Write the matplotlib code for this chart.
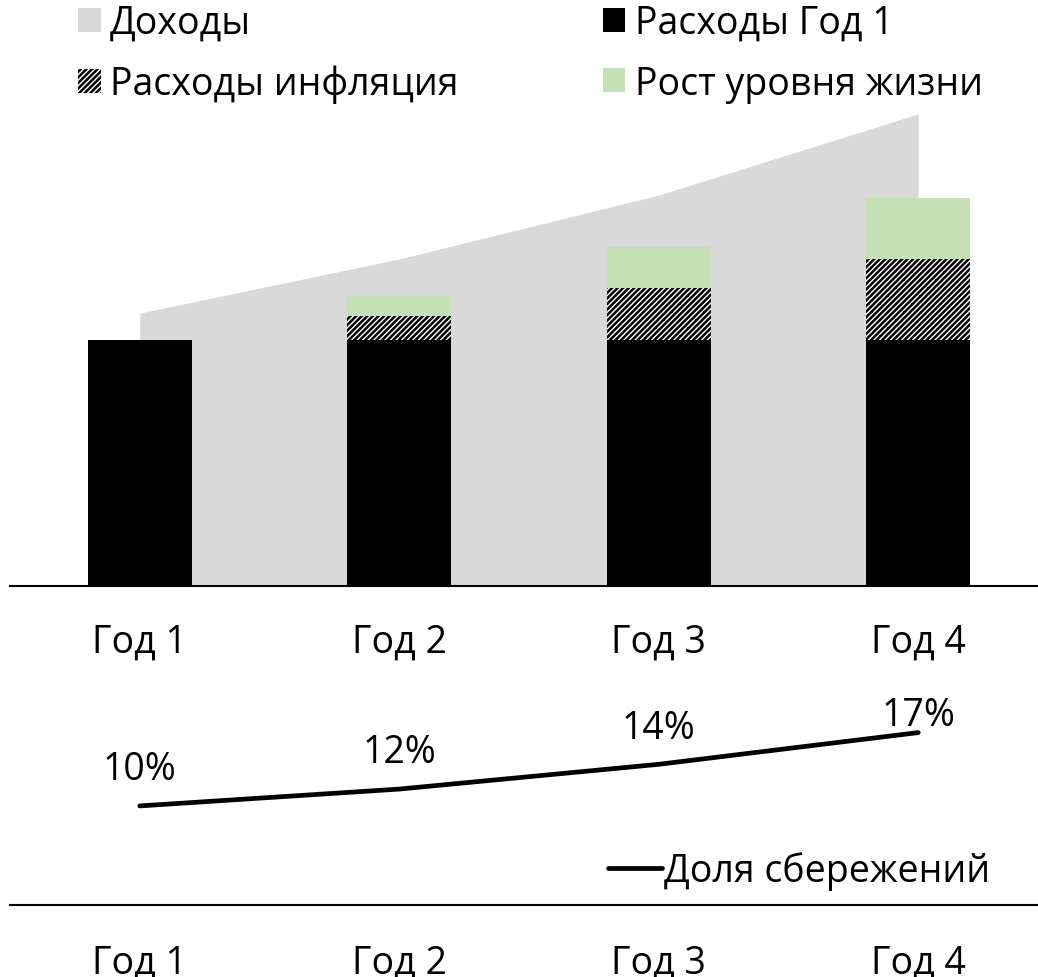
import matplotlib as mpl
mpl.use('Agg')
import matplotlib.pyplot as plt
import numpy as np

# data
years = ['Год 1', 'Год 2', 'Год 3', 'Год 4']
income = [111, 133, 159, 192]
base_spend = [100, 100, 100, 100]
inflation = [0, 10, 21, 33]
growth = [0, 8, 17, 25]
savings = [0.100, 0.117, 0.142, 0.174]
savings_labels = ['10%', '12%', '14%', '17%']

plt.rcParams['font.family'] = ['Open Sans', 'DejaVu Sans']
plt.rcParams['hatch.linewidth'] = 1.8
fs = 27

W, H = 1038, 978
fig = plt.figure(figsize=(W / 100, H / 100), dpi=100)

x = np.arange(len(years))

### top panel ###
ax = fig.add_axes([10 / W, 1 - 587 / H, 1038 / W, 477 / H])
ax.fill_between(x, income, color='#d9d9d9', linewidth=0, label='Доходы')
ax.bar(x, base_spend, width=0.4, color='black', linewidth=0, label='Расходы Год 1')
ax.bar(x, inflation, width=0.4, bottom=base_spend, facecolor='white',
       edgecolor='black', hatch='//////', linewidth=0, label='Расходы инфляция')
bottom2 = np.array(base_spend) + np.array(inflation)
ax.bar(x, growth, width=0.4, bottom=bottom2, color='#c5e0b4', linewidth=0,
       label='Рост уровня жизни')
ax.set_xlim(-0.5, 3.5)
ax.set_ylim(0, 194)
ax.set_yticks([])
ax.set_xticks(x)
ax.set_xticklabels(years, fontsize=fs)
ax.tick_params(axis='x', length=0, pad=26)
for s in ['top', 'right', 'left']:
    ax.spines[s].set_visible(False)
ax.spines['bottom'].set_linewidth(1.5)

handles, labels = ax.get_legend_handles_labels()
order = [0, 2, 1, 3]
fig.legend([handles[i] for i in order], [labels[i] for i in order],
           loc='upper left', bbox_to_anchor=(78 / W, 1 - 5 / H), ncol=2,
           frameon=False, fontsize=fs, borderpad=0, borderaxespad=0,
           handlelength=0.6, handleheight=0.6, handletextpad=0.25,
           columnspacing=3.85, labelspacing=0.6)

### bottom panel ###
ax2 = fig.add_axes([10 / W, 1 - 906 / H, 1038 / W, 216 / H])
ax2.plot(x, savings, color='black', linewidth=3.4, solid_capstyle='round',
         label='Доля сбережений')
top = 0.218
ax2.set_xlim(-0.5, 3.5)
ax2.set_ylim(0, top)
for xi, v, lab in zip(x, savings, savings_labels):
    ax2.text(xi, min(v + 0.037, top - 0.026), lab, ha='center', va='center',
             fontsize=fs)
ax2.set_yticks([])
ax2.set_xticks(x)
ax2.set_xticklabels(years, fontsize=fs)
ax2.tick_params(axis='x', length=0, pad=28)
for s in ['top', 'right', 'left']:
    ax2.spines[s].set_visible(False)
ax2.spines['bottom'].set_linewidth(1.5)
ax2.legend(loc='center right', bbox_to_anchor=(990 / W, 1 - 872 / H),
           bbox_transform=fig.transFigure,
           frameon=False, fontsize=fs, borderpad=0, borderaxespad=0,
           handlelength=1.45, handletextpad=0.05)

plt.savefig('out.png', dpi=100)
